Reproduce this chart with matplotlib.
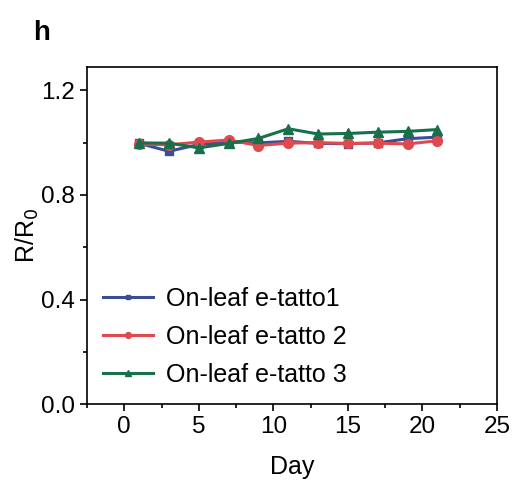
import numpy as np
import matplotlib.pyplot as plt
from matplotlib.ticker import MultipleLocator

plt.rcParams['font.family'] = ['Liberation Sans', 'DejaVu Sans']

days = [1, 3, 5, 7, 9, 11, 13, 15, 17, 19, 21]
tatto1 = [0.997, 0.967, 0.993, 1.002, 0.999, 1.005, 0.997, 0.996, 0.999, 1.015, 1.021]
tatto2 = [0.994, 0.992, 1.002, 1.010, 0.989, 0.998, 1.000, 0.997, 0.998, 0.995, 1.007]
tatto3 = [0.999, 0.998, 0.980, 0.997, 1.016, 1.053, 1.033, 1.035, 1.040, 1.043, 1.050]
labels = ['On-leaf e-tatto1', 'On-leaf e-tatto 2', 'On-leaf e-tatto 3']

fig = plt.figure(figsize=(5.15, 4.84), dpi=100)
ax = fig.add_axes([0.169, 0.165, 0.796, 0.697])

ax.plot(days, tatto1, color='#3a4e96', marker='s', markersize=6, lw=2.2, label=labels[0])
ax.plot(days, tatto2, color='#e04a4f', marker='o', markersize=7, lw=2.2, label=labels[1])
ax.plot(days, tatto3, color='#17704a', marker='^', markersize=7, lw=2.2, label=labels[2])

ax.set_xlim(-2.5, 25)
ax.set_ylim(0, 1.29)
ax.xaxis.set_major_locator(MultipleLocator(5))
ax.xaxis.set_minor_locator(MultipleLocator(2.5))
ax.yaxis.set_minor_locator(MultipleLocator(0.2))
ax.set_yticks([0, 0.4, 0.8, 1.2])
ax.set_yticklabels(['0.0', '0.4', '0.8', '1.2'])
ax.tick_params(which='both', direction='out', labelsize=17.5, width=1.2)
ax.tick_params(which='major', length=5)
ax.tick_params(which='minor', length=3)
for s in ax.spines.values():
    s.set_linewidth(1.2)

ax.set_xlabel('Day', fontsize=18, labelpad=12)
ax.set_ylabel('R/R$_0$', fontsize=18, labelpad=0)

ax.legend(loc='lower left', frameon=False, fontsize=18, markerscale=0.6,
          handlelength=2.0, handletextpad=0.5, labelspacing=0.55,
          bbox_to_anchor=(-0.015, -0.015))

fig.text(0.064, 0.918, 'h', fontsize=20, fontweight='bold')

fig.savefig('out.png', dpi=100)
